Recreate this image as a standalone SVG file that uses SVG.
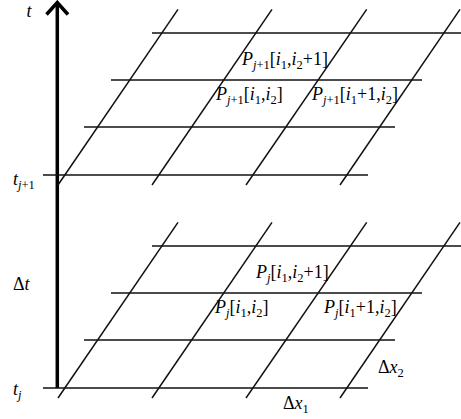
<svg xmlns="http://www.w3.org/2000/svg" width="461" height="419" viewBox="0 0 461 419">
<style>
.g line{stroke:#111;stroke-width:1.5;stroke-linecap:butt}
.ax{stroke:#000;stroke-width:3.5;fill:none}
.t text{font-size:18px;fill:#000}
.i{font-style:italic}
.s{font-size:12.5px}
</style>
<rect width="461" height="419" fill="#fff"/>
<g id="connectors">
<g id="axis">
<line class="ax" x1="57.3" y1="3" x2="57.3" y2="388"/>
<polyline class="ax" points="46.5,14.5 57.3,2.5 68,14.5" stroke-linejoin="miter"/>
</g>
<g id="grid-upper" class="g">
<line x1="152" y1="33" x2="461" y2="33"/>
<line x1="111" y1="80" x2="422" y2="80"/>
<line x1="84" y1="127" x2="395" y2="127"/>
<line x1="43" y1="175" x2="368" y2="175"/>
<line x1="58" y1="185" x2="178" y2="9.3"/>
<line x1="152" y1="185" x2="272" y2="9.3"/>
<line x1="246" y1="185" x2="366.7" y2="9.3"/>
<line x1="340" y1="185" x2="460" y2="9.3"/>
</g>
<g id="grid-lower" class="g">
<line x1="152" y1="246" x2="461" y2="246"/>
<line x1="111" y1="293" x2="422" y2="293"/>
<line x1="84" y1="340" x2="395" y2="340"/>
<line x1="43" y1="388" x2="368" y2="388"/>
<line x1="58" y1="398" x2="178" y2="222.3"/>
<line x1="152" y1="398" x2="272" y2="222.3"/>
<line x1="246" y1="398" x2="366.7" y2="222.3"/>
<line x1="340" y1="398" x2="460" y2="222.3"/>
</g>
</g>
<g class="t" font-family="Liberation Serif, Times New Roman, serif">
<g id="label-t"><text x="26.5" y="17" class="i">t</text></g>
<g id="label-tj1"><text x="13" y="185"><tspan class="i">t</tspan><tspan class="s" dy="4"><tspan class="i">j</tspan>+1</tspan></text></g>
<g id="label-dt"><text x="13" y="290">Δ<tspan class="i">t</tspan></text></g>
<g id="label-tj"><text x="13" y="395"><tspan class="i">t</tspan><tspan class="s i" dy="4">j</tspan></text></g>
<g id="node-pj1-a"><text x="242" y="65"><tspan class="i">P</tspan><tspan class="s" dy="4"><tspan class="i">j</tspan>+1</tspan><tspan dy="-4">[</tspan><tspan class="i">i</tspan><tspan class="s" dy="4">1</tspan><tspan dy="-4">,</tspan><tspan class="i">i</tspan><tspan class="s" dy="4">2</tspan><tspan dy="-4">+1]</tspan></text></g>
<g id="node-pj1-b"><text x="216" y="100"><tspan class="i">P</tspan><tspan class="s" dy="4"><tspan class="i">j</tspan>+1</tspan><tspan dy="-4">[</tspan><tspan class="i">i</tspan><tspan class="s" dy="4">1</tspan><tspan dy="-4">,</tspan><tspan class="i">i</tspan><tspan class="s" dy="4">2</tspan><tspan dy="-4">]</tspan></text></g>
<g id="node-pj1-c"><text x="312" y="100"><tspan class="i">P</tspan><tspan class="s" dy="4"><tspan class="i">j</tspan>+1</tspan><tspan dy="-4">[</tspan><tspan class="i">i</tspan><tspan class="s" dy="4">1</tspan><tspan dy="-4">+1,</tspan><tspan class="i">i</tspan><tspan class="s" dy="4">2</tspan><tspan dy="-4">]</tspan></text></g>
<g id="node-pj-a"><text x="256" y="278"><tspan class="i">P</tspan><tspan class="s i" dy="4">j</tspan><tspan dy="-4">[</tspan><tspan class="i">i</tspan><tspan class="s" dy="4">1</tspan><tspan dy="-4">,</tspan><tspan class="i">i</tspan><tspan class="s" dy="4">2</tspan><tspan dy="-4">+1]</tspan></text></g>
<g id="node-pj-b"><text x="215" y="313"><tspan class="i">P</tspan><tspan class="s i" dy="4">j</tspan><tspan dy="-4">[</tspan><tspan class="i">i</tspan><tspan class="s" dy="4">1</tspan><tspan dy="-4">,</tspan><tspan class="i">i</tspan><tspan class="s" dy="4">2</tspan><tspan dy="-4">]</tspan></text></g>
<g id="node-pj-c"><text x="324" y="313"><tspan class="i">P</tspan><tspan class="s i" dy="4">j</tspan><tspan dy="-4">[</tspan><tspan class="i">i</tspan><tspan class="s" dy="4">1</tspan><tspan dy="-4">+1,</tspan><tspan class="i">i</tspan><tspan class="s" dy="4">2</tspan><tspan dy="-4">]</tspan></text></g>
<g id="label-dx2"><text x="378" y="373">Δ<tspan class="i">x</tspan><tspan class="s" dy="4">2</tspan></text></g>
<g id="label-dx1"><text x="283" y="409">Δ<tspan class="i">x</tspan><tspan class="s" dy="4">1</tspan></text></g>
</g>
</svg>
